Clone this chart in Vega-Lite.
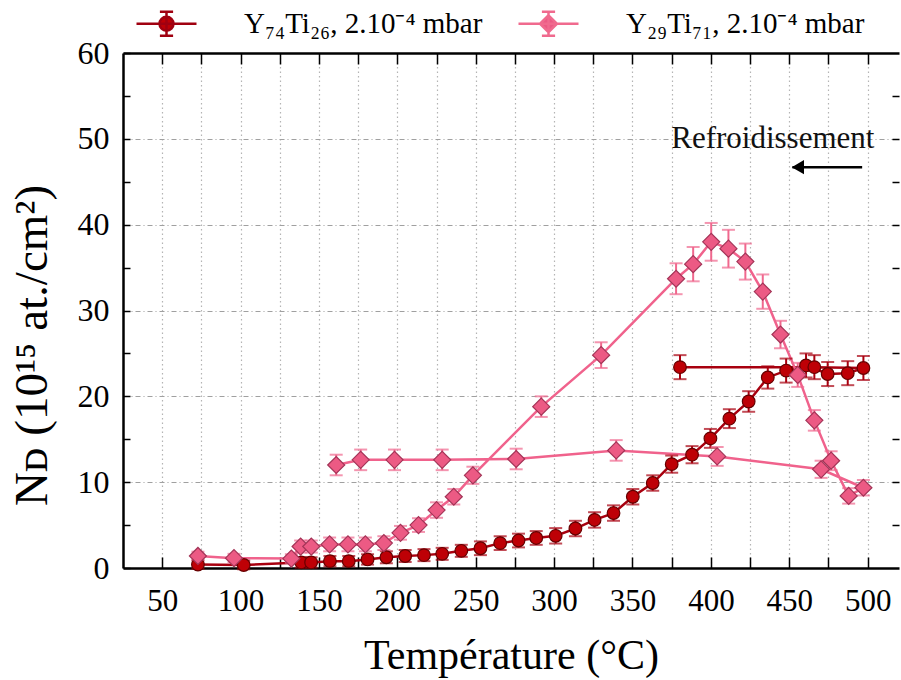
{
  "$schema": "https://vega.github.io/schema/vega-lite/v6.json",
  "width": 776,
  "height": 515,
  "autosize": {"type": "none"},
  "padding": {"left": 123, "top": 53, "right": 2, "bottom": 112},
  "background": "white",
  "config": {"view": {"stroke": null}, "font": "Liberation Serif"},
  "resolve": {"axis": {"x": "independent", "y": "independent"}},
  "datasets": {
    "pts": [
      {"s": "Y₇₄Ti₂₆, 2.10⁻⁴ mbar", "i": 1, "T": 72.8, "N": 0.4, "e": 0.5},
      {"s": "Y₇₄Ti₂₆, 2.10⁻⁴ mbar", "i": 2, "T": 102, "N": 0.35, "e": 0.5},
      {"s": "Y₇₄Ti₂₆, 2.10⁻⁴ mbar", "i": 3, "T": 138.7, "N": 0.65, "e": 0.6},
      {"s": "Y₇₄Ti₂₆, 2.10⁻⁴ mbar", "i": 4, "T": 145, "N": 0.65, "e": 0.6},
      {"s": "Y₇₄Ti₂₆, 2.10⁻⁴ mbar", "i": 5, "T": 157, "N": 0.8, "e": 0.6},
      {"s": "Y₇₄Ti₂₆, 2.10⁻⁴ mbar", "i": 6, "T": 169, "N": 0.8, "e": 0.6},
      {"s": "Y₇₄Ti₂₆, 2.10⁻⁴ mbar", "i": 7, "T": 181, "N": 1.0, "e": 0.6},
      {"s": "Y₇₄Ti₂₆, 2.10⁻⁴ mbar", "i": 8, "T": 193, "N": 1.25, "e": 0.7},
      {"s": "Y₇₄Ti₂₆, 2.10⁻⁴ mbar", "i": 9, "T": 205, "N": 1.4, "e": 0.7},
      {"s": "Y₇₄Ti₂₆, 2.10⁻⁴ mbar", "i": 10, "T": 217, "N": 1.5, "e": 0.7},
      {"s": "Y₇₄Ti₂₆, 2.10⁻⁴ mbar", "i": 11, "T": 228.6, "N": 1.65, "e": 0.7},
      {"s": "Y₇₄Ti₂₆, 2.10⁻⁴ mbar", "i": 12, "T": 240.8, "N": 2.0, "e": 0.7},
      {"s": "Y₇₄Ti₂₆, 2.10⁻⁴ mbar", "i": 13, "T": 253, "N": 2.3, "e": 0.8},
      {"s": "Y₇₄Ti₂₆, 2.10⁻⁴ mbar", "i": 14, "T": 265.6, "N": 2.9, "e": 0.8},
      {"s": "Y₇₄Ti₂₆, 2.10⁻⁴ mbar", "i": 15, "T": 277.3, "N": 3.2, "e": 0.8},
      {"s": "Y₇₄Ti₂₆, 2.10⁻⁴ mbar", "i": 16, "T": 288.6, "N": 3.5, "e": 0.8},
      {"s": "Y₇₄Ti₂₆, 2.10⁻⁴ mbar", "i": 17, "T": 301, "N": 3.75, "e": 0.9},
      {"s": "Y₇₄Ti₂₆, 2.10⁻⁴ mbar", "i": 18, "T": 313.6, "N": 4.6, "e": 0.9},
      {"s": "Y₇₄Ti₂₆, 2.10⁻⁴ mbar", "i": 19, "T": 325.8, "N": 5.6, "e": 0.9},
      {"s": "Y₇₄Ti₂₆, 2.10⁻⁴ mbar", "i": 20, "T": 337.9, "N": 6.4, "e": 0.9},
      {"s": "Y₇₄Ti₂₆, 2.10⁻⁴ mbar", "i": 21, "T": 350.2, "N": 8.3, "e": 0.9},
      {"s": "Y₇₄Ti₂₆, 2.10⁻⁴ mbar", "i": 22, "T": 362.9, "N": 9.9, "e": 0.9},
      {"s": "Y₇₄Ti₂₆, 2.10⁻⁴ mbar", "i": 23, "T": 375, "N": 12.1, "e": 1.0},
      {"s": "Y₇₄Ti₂₆, 2.10⁻⁴ mbar", "i": 24, "T": 388, "N": 13.2, "e": 1.0},
      {"s": "Y₇₄Ti₂₆, 2.10⁻⁴ mbar", "i": 25, "T": 399.7, "N": 15.1, "e": 1.1},
      {"s": "Y₇₄Ti₂₆, 2.10⁻⁴ mbar", "i": 26, "T": 411.8, "N": 17.4, "e": 1.1},
      {"s": "Y₇₄Ti₂₆, 2.10⁻⁴ mbar", "i": 27, "T": 424.1, "N": 19.4, "e": 1.2},
      {"s": "Y₇₄Ti₂₆, 2.10⁻⁴ mbar", "i": 28, "T": 436.3, "N": 22.2, "e": 1.3},
      {"s": "Y₇₄Ti₂₆, 2.10⁻⁴ mbar", "i": 29, "T": 448, "N": 23.0, "e": 1.4},
      {"s": "Y₇₄Ti₂₆, 2.10⁻⁴ mbar", "i": 30, "T": 460.7, "N": 23.6, "e": 1.4},
      {"s": "Y₇₄Ti₂₆, 2.10⁻⁴ mbar", "i": 31, "T": 474.5, "N": 22.6, "e": 1.4},
      {"s": "Y₇₄Ti₂₆, 2.10⁻⁴ mbar", "i": 32, "T": 487.3, "N": 22.7, "e": 1.4},
      {"s": "Y₇₄Ti₂₆, 2.10⁻⁴ mbar", "i": 33, "T": 497.3, "N": 23.3, "e": 1.4},
      {"s": "Y₇₄Ti₂₆, 2.10⁻⁴ mbar", "i": 34, "T": 466, "N": 23.4, "e": 1.4},
      {"s": "Y₇₄Ti₂₆, 2.10⁻⁴ mbar", "i": 35, "T": 380.3, "N": 23.4, "e": 1.4},
      {"s": "Y₂₉Ti₇₁, 2.10⁻⁴ mbar", "i": 1, "T": 72.8, "N": 1.4, "e": 0.5},
      {"s": "Y₂₉Ti₇₁, 2.10⁻⁴ mbar", "i": 2, "T": 95.8, "N": 1.15, "e": 0.5},
      {"s": "Y₂₉Ti₇₁, 2.10⁻⁴ mbar", "i": 3, "T": 132.4, "N": 1.1, "e": 0.5},
      {"s": "Y₂₉Ti₇₁, 2.10⁻⁴ mbar", "i": 4, "T": 138.3, "N": 2.5, "e": 0.7},
      {"s": "Y₂₉Ti₇₁, 2.10⁻⁴ mbar", "i": 5, "T": 145.1, "N": 2.5, "e": 0.7},
      {"s": "Y₂₉Ti₇₁, 2.10⁻⁴ mbar", "i": 6, "T": 156.8, "N": 2.75, "e": 0.8},
      {"s": "Y₂₉Ti₇₁, 2.10⁻⁴ mbar", "i": 7, "T": 168.5, "N": 2.75, "e": 0.8},
      {"s": "Y₂₉Ti₇₁, 2.10⁻⁴ mbar", "i": 8, "T": 179.6, "N": 2.75, "e": 0.8},
      {"s": "Y₂₉Ti₇₁, 2.10⁻⁴ mbar", "i": 9, "T": 191.4, "N": 2.9, "e": 0.8},
      {"s": "Y₂₉Ti₇₁, 2.10⁻⁴ mbar", "i": 10, "T": 202, "N": 4.1, "e": 0.8},
      {"s": "Y₂₉Ti₇₁, 2.10⁻⁴ mbar", "i": 11, "T": 213.5, "N": 5.0, "e": 0.8},
      {"s": "Y₂₉Ti₇₁, 2.10⁻⁴ mbar", "i": 12, "T": 225, "N": 6.75, "e": 0.9},
      {"s": "Y₂₉Ti₇₁, 2.10⁻⁴ mbar", "i": 13, "T": 236, "N": 8.3, "e": 0.9},
      {"s": "Y₂₉Ti₇₁, 2.10⁻⁴ mbar", "i": 14, "T": 248.2, "N": 10.8, "e": 1.0},
      {"s": "Y₂₉Ti₇₁, 2.10⁻⁴ mbar", "i": 15, "T": 291.8, "N": 18.8, "e": 1.2},
      {"s": "Y₂₉Ti₇₁, 2.10⁻⁴ mbar", "i": 16, "T": 330, "N": 24.8, "e": 1.5},
      {"s": "Y₂₉Ti₇₁, 2.10⁻⁴ mbar", "i": 17, "T": 377.8, "N": 33.7, "e": 1.8},
      {"s": "Y₂₉Ti₇₁, 2.10⁻⁴ mbar", "i": 18, "T": 388.7, "N": 35.4, "e": 2.0},
      {"s": "Y₂₉Ti₇₁, 2.10⁻⁴ mbar", "i": 19, "T": 400.2, "N": 38.0, "e": 2.2},
      {"s": "Y₂₉Ti₇₁, 2.10⁻⁴ mbar", "i": 20, "T": 411.2, "N": 37.2, "e": 2.2},
      {"s": "Y₂₉Ti₇₁, 2.10⁻⁴ mbar", "i": 21, "T": 422, "N": 35.7, "e": 2.1},
      {"s": "Y₂₉Ti₇₁, 2.10⁻⁴ mbar", "i": 22, "T": 433.1, "N": 32.2, "e": 2.0},
      {"s": "Y₂₉Ti₇₁, 2.10⁻⁴ mbar", "i": 23, "T": 444.4, "N": 27.2, "e": 1.6},
      {"s": "Y₂₉Ti₇₁, 2.10⁻⁴ mbar", "i": 24, "T": 455.4, "N": 22.5, "e": 1.4},
      {"s": "Y₂₉Ti₇₁, 2.10⁻⁴ mbar", "i": 25, "T": 466, "N": 17.2, "e": 1.2},
      {"s": "Y₂₉Ti₇₁, 2.10⁻⁴ mbar", "i": 26, "T": 476.7, "N": 12.5, "e": 1.1},
      {"s": "Y₂₉Ti₇₁, 2.10⁻⁴ mbar", "i": 27, "T": 487.9, "N": 8.4, "e": 0.9},
      {"s": "Y₂₉Ti₇₁, 2.10⁻⁴ mbar", "i": 28, "T": 497.3, "N": 9.35, "e": 0.9},
      {"s": "Y₂₉Ti₇₁, 2.10⁻⁴ mbar", "i": 29, "T": 470.3, "N": 11.5, "e": 1.0},
      {"s": "Y₂₉Ti₇₁, 2.10⁻⁴ mbar", "i": 30, "T": 404, "N": 13.0, "e": 1.1},
      {"s": "Y₂₉Ti₇₁, 2.10⁻⁴ mbar", "i": 31, "T": 339.6, "N": 13.7, "e": 1.2},
      {"s": "Y₂₉Ti₇₁, 2.10⁻⁴ mbar", "i": 32, "T": 275.8, "N": 12.7, "e": 1.2},
      {"s": "Y₂₉Ti₇₁, 2.10⁻⁴ mbar", "i": 33, "T": 228.6, "N": 12.6, "e": 1.2},
      {"s": "Y₂₉Ti₇₁, 2.10⁻⁴ mbar", "i": 34, "T": 198.2, "N": 12.6, "e": 1.2},
      {"s": "Y₂₉Ti₇₁, 2.10⁻⁴ mbar", "i": 35, "T": 176.6, "N": 12.6, "e": 1.2},
      {"s": "Y₂₉Ti₇₁, 2.10⁻⁴ mbar", "i": 36, "T": 161, "N": 12.0, "e": 1.2}
    ],
    "ann": [{"x": 439.5, "y": 50, "label": "Refroidissement"}],
    "arrow": [{"x1": 452, "x2": 496.5, "y": 46.7}],
    "head": [{"x": 455.5, "y": 46.7}]
  },
  "layer": [
    {
      "data": {"name": "pts"},
      "transform": [{"filter": "false"}],
      "mark": {"type": "point", "filled": true, "opacity": 1},
      "encoding": {
        "x": {"field": "T", "type": "quantitative", "scale": {"domain": [25, 520], "nice": false, "zero": false}, "axis": null},
        "y": {"field": "N", "type": "quantitative", "scale": {"domain": [0, 60], "nice": false}, "axis": null},
        "fill": {"field": "s", "type": "nominal",
          "scale": {"domain": ["Y₇₄Ti₂₆, 2.10⁻⁴ mbar", "Y₂₉Ti₇₁, 2.10⁻⁴ mbar"], "range": ["#BE0006", "#EC5A84"]},
          "legend": {"orient": "none", "legendX": 12, "legendY": -61, "direction": "horizontal", "title": null, "padding": 0,
            "symbolSize": 3600, "symbolStrokeWidth": 2.5, "symbolOpacity": 1, "labelFont": "Liberation Serif", "labelFontSize": 29, "labelColor": "black",
            "labelOffset": 46, "columnPadding": 30, "labelLimit": 400}},
        "stroke": {"field": "s", "type": "nominal",
          "scale": {"domain": ["Y₇₄Ti₂₆, 2.10⁻⁴ mbar", "Y₂₉Ti₇₁, 2.10⁻⁴ mbar"], "range": ["#A00010", "#F06A8E"]},
          "legend": {"orient": "none", "legendX": 12, "legendY": -61, "direction": "horizontal", "title": null, "padding": 0,
            "symbolSize": 3600, "symbolStrokeWidth": 2.5, "symbolOpacity": 1, "labelFont": "Liberation Serif", "labelFontSize": 29, "labelColor": "black",
            "labelOffset": 46, "columnPadding": 30, "labelLimit": 400}},
        "shape": {"field": "s", "type": "nominal",
          "scale": {"domain": ["Y₇₄Ti₂₆, 2.10⁻⁴ mbar", "Y₂₉Ti₇₁, 2.10⁻⁴ mbar"],
            "range": ["M-1,0L1,0M0,-0.4L0,0.4M-0.22,-0.4L0.22,-0.4M-0.22,0.4L0.22,0.4M-0.233,0A0.233,0.233,0,1,0,0.233,0A0.233,0.233,0,1,0,-0.233,0Z",
                      "M-1,0L1,0M0,-0.4L0,0.4M-0.22,-0.4L0.22,-0.4M-0.22,0.4L0.22,0.4M0,-0.283L0.283,0L0,0.283L-0.283,0Z"]},
          "legend": {"orient": "none", "legendX": 12, "legendY": -61, "direction": "horizontal", "title": null, "padding": 0,
            "symbolSize": 3600, "symbolStrokeWidth": 2.5, "symbolOpacity": 1, "labelFont": "Liberation Serif", "labelFontSize": 29, "labelColor": "black",
            "labelOffset": 46, "columnPadding": 30, "labelLimit": 400}}
      }
    },
    {
      "data": {"name": "pts"},
      "transform": [{"filter": {"field": "s", "equal": "Y₇₄Ti₂₆, 2.10⁻⁴ mbar"}}],
      "mark": {"type": "line", "strokeWidth": 2.5, "color": "#A8000F"},
      "encoding": {
        "x": {"field": "T", "type": "quantitative", "scale": {"domain": [25, 520], "nice": false, "zero": false},
          "axis": {"orient": "bottom", "values": [50,75,100,125,150,175,200,225,250,275,300,325,350,375,400,425,450,475,500],
            "labelExpr": "datum.value % 50 === 0 ? datum.label : ''",
            "title": "Température (°C)", "titleFont": "Liberation Serif", "titleFontSize": 42, "titleFontWeight": "normal", "titleColor": "black",
            "titleY": 87, "titleBaseline": "middle",
            "labelFont": "Liberation Serif", "labelFontSize": 31, "labelColor": "black", "labelPadding": 29, "labelFlush": false, "labelOverlap": false,
            "tickSize": -11, "tickColor": "black", "tickWidth": 1.5,
            "domainColor": "black", "domainWidth": 2.5,
            "grid": true, "gridColor": "#b4b4b4", "gridDash": [1.5, 3], "gridWidth": 1.2}},
        "y": {"field": "N", "type": "quantitative", "scale": {"domain": [0, 60], "nice": false},
          "axis": {"orient": "left", "values": [0,5,10,15,20,25,30,35,40,45,50,55,60],
            "labelExpr": "datum.value % 10 === 0 ? datum.label : ''",
            "title": "Nᴅ (10¹⁵ at./cm²)", "titleFont": "Liberation Serif", "titleFontSize": 47, "titleFontWeight": "normal", "titleColor": "black",
            "titleX": -91, "titleY": 292, "titleBaseline": "middle", "titleAngle": -90,
            "labelFont": "Liberation Serif", "labelFontSize": 32, "labelColor": "black", "labelPadding": 21, "labelFlush": false, "labelOverlap": false,
            "tickSize": -7, "tickColor": "black", "tickWidth": 1.5,
            "domainColor": "black", "domainWidth": 2.5,
            "grid": true, "gridColor": "#a0a0a0", "gridDash": [5, 3, 1, 3], "gridWidth": 1.2,
            "gridOpacity": {"condition": {"test": "datum.value % 10 === 0 && datum.value > 0 && datum.value < 60", "value": 1}, "value": 0}}},
        "order": {"field": "i", "type": "quantitative"}
      }
    },
    {
      "data": {"name": "pts"},
      "transform": [{"filter": {"field": "s", "equal": "Y₂₉Ti₇₁, 2.10⁻⁴ mbar"}}],
      "mark": {"type": "line", "strokeWidth": 2.5, "color": "#F0628C"},
      "encoding": {
        "x": {"field": "T", "type": "quantitative", "scale": {"domain": [25, 520], "nice": false, "zero": false}, "axis": null},
        "y": {"field": "N", "type": "quantitative", "scale": {"domain": [0, 60], "nice": false}, "axis": null},
        "order": {"field": "i", "type": "quantitative"}
      }
    },
    {
      "data": {"name": "pts"},
      "transform": [{"filter": {"field": "s", "equal": "Y₇₄Ti₂₆, 2.10⁻⁴ mbar"}}],
      "mark": {"type": "errorbar", "ticks": {"size": 13, "thickness": 2, "color": "#A8000F"}, "rule": {"strokeWidth": 2, "color": "#A8000F"}},
      "encoding": {
        "x": {"field": "T", "type": "quantitative", "scale": {"domain": [25, 520], "nice": false, "zero": false}, "axis": null},
        "y": {"field": "N", "type": "quantitative", "scale": {"domain": [0, 60], "nice": false}, "axis": null},
        "yError": {"field": "e"}
      }
    },
    {
      "data": {"name": "pts"},
      "transform": [{"filter": {"field": "s", "equal": "Y₂₉Ti₇₁, 2.10⁻⁴ mbar"}}],
      "mark": {"type": "errorbar", "ticks": {"size": 13, "thickness": 2, "color": "#F0688E"}, "rule": {"strokeWidth": 2, "color": "#F0688E"}},
      "encoding": {
        "x": {"field": "T", "type": "quantitative", "scale": {"domain": [25, 520], "nice": false, "zero": false}, "axis": null},
        "y": {"field": "N", "type": "quantitative", "scale": {"domain": [0, 60], "nice": false}, "axis": null},
        "yError": {"field": "e"}
      }
    },
    {
      "data": {"name": "pts"},
      "transform": [{"filter": {"field": "s", "equal": "Y₇₄Ti₂₆, 2.10⁻⁴ mbar"}}],
      "mark": {"type": "point", "shape": "circle", "size": 160, "filled": true, "fill": "#BE0006", "stroke": "#650000", "strokeWidth": 1.2, "opacity": 1},
      "encoding": {
        "x": {"field": "T", "type": "quantitative", "scale": {"domain": [25, 520], "nice": false, "zero": false},
          "axis": {"orient": "top", "values": [50,75,100,125,150,175,200,225,250,275,300,325,350,375,400,425,450,475,500],
            "labels": false, "title": null, "grid": false, "tickSize": -11, "tickColor": "black", "tickWidth": 1.5,
            "domainColor": "black", "domainWidth": 2.5}},
        "y": {"field": "N", "type": "quantitative", "scale": {"domain": [0, 60], "nice": false},
          "axis": {"orient": "right", "values": [5,10,15,20,25,30,35,40,45,50,55],
            "labels": false, "title": null, "grid": false, "domain": false, "tickSize": -7, "tickColor": "black", "tickWidth": 1.5}}
      }
    },
    {
      "data": {"name": "pts"},
      "transform": [{"filter": {"field": "s", "equal": "Y₂₉Ti₇₁, 2.10⁻⁴ mbar"}}],
      "mark": {"type": "point", "shape": "diamond", "size": 290, "filled": true, "fill": "#EC5A84", "stroke": "#A33457", "strokeWidth": 1.2, "opacity": 1},
      "encoding": {
        "x": {"field": "T", "type": "quantitative", "scale": {"domain": [25, 520], "nice": false, "zero": false}, "axis": null},
        "y": {"field": "N", "type": "quantitative", "scale": {"domain": [0, 60], "nice": false}, "axis": null}
      }
    },
    {
      "data": {"name": "ann"},
      "mark": {"type": "text", "font": "Liberation Serif", "fontSize": 31, "color": "#111111", "baseline": "middle", "align": "center"},
      "encoding": {
        "x": {"field": "x", "type": "quantitative", "scale": {"domain": [25, 520], "nice": false, "zero": false}, "axis": null},
        "y": {"field": "y", "type": "quantitative", "scale": {"domain": [0, 60], "nice": false}, "axis": null},
        "text": {"field": "label"}
      }
    },
    {
      "data": {"name": "arrow"},
      "mark": {"type": "rule", "strokeWidth": 2.5, "color": "black"},
      "encoding": {
        "x": {"field": "x1", "type": "quantitative", "scale": {"domain": [25, 520], "nice": false, "zero": false}, "axis": null},
        "x2": {"field": "x2"},
        "y": {"field": "y", "type": "quantitative", "scale": {"domain": [0, 60], "nice": false}, "axis": null}
      }
    },
    {
      "data": {"name": "head"},
      "mark": {"type": "point", "shape": "triangle-left", "filled": true, "size": 200, "color": "black", "opacity": 1},
      "encoding": {
        "x": {"field": "x", "type": "quantitative", "scale": {"domain": [25, 520], "nice": false, "zero": false}, "axis": null},
        "y": {"field": "y", "type": "quantitative", "scale": {"domain": [0, 60], "nice": false}, "axis": null}
      }
    }
  ]
}
